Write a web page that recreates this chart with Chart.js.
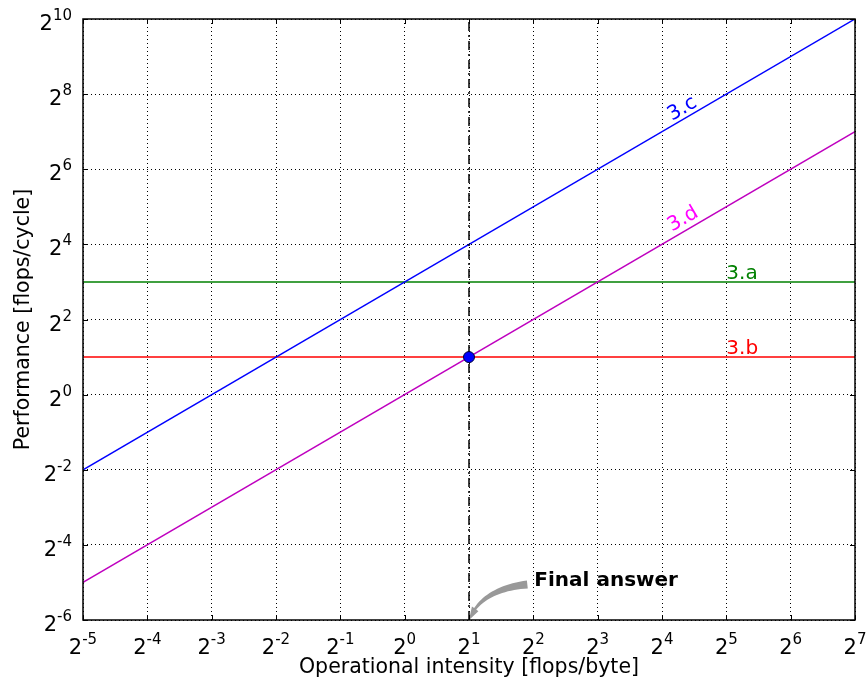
<!DOCTYPE html>
<html>
<head>
<meta charset="utf-8">
<script src="https://cdn.jsdelivr.net/npm/chart.js@4.4.0/dist/chart.umd.min.js"></script>
<style>
    body { margin: 0; background: #fff; }
    #wrap { width: 866px; height: 684px; }
</style>
</head>
<body>
<div id="wrap"><canvas id="roofline" width="866" height="684"></canvas></div>
<script>
// Tick exponents (base 2)
const xTickExp = [-5, -4, -3, -2, -1, 0, 1, 2, 3, 4, 5, 6, 7];
const yTickExp = [-6, -4, -2, 0, 2, 4, 6, 8, 10];

// Series (flops/byte -> flops/cycle)
const intensity = [1 / 32, 128];
const perf3a = [8, 8];
const perf3b = [2, 2];
const perf3c = [1 / 4, 1024];
const perf3d = [1 / 32, 128];

// Answer marker + vertical guide
const answerX = [2];
const answerY = [2];
const guideX = [2, 2];
const guideY = [1 / 64, 1024];

// Text annotations: [label, x, y, color, rotate along line]
const lineLabels = [
    ["3.c", 2 ** 4.17, 2 ** 7.24, "#0000ff", true],
    ["3.d", 2 ** 4.17, 2 ** 4.29, "#ff00ff", true],
    ["3.a", 2 ** 5, 2 ** 3.03, "#008000", false],
    ["3.b", 2 ** 5, 2 ** 1.03, "#ff0000", false],
];
const answerText = "Final answer";
const answerTextPos = [4, 2 ** -5];

const FONT = '"DejaVu Sans", sans-serif';

function pts(xs, ys) {
    return xs.map((x, i) => ({ x: x, y: ys[i] }));
}

function powTicks(exps) {
    return (scale) => {
        scale.ticks = exps.map((e) => ({ value: 2 ** e }));
    };
}

// "2" with a raised exponent
function drawPow(ctx, exp, x, baseline, align) {
    ctx.font = "21px " + FONT;
    const w2 = ctx.measureText("2").width;
    ctx.font = "15px " + FONT;
    const we = ctx.measureText(String(exp)).width;
    const total = w2 + we;
    const left = align === "center" ? x - total / 2 : x - total;
    ctx.textAlign = "left";
    ctx.textBaseline = "alphabetic";
    ctx.fillStyle = "#000";
    ctx.font = "21px " + FONT;
    ctx.fillText("2", left, baseline);
    ctx.font = "15px " + FONT;
    ctx.fillText(String(exp), left + w2, baseline - 10);
}

const decorPlugin = {
    id: "decor",
    afterDatasetsDraw(chart) {
        const ctx = chart.ctx;
        const a = chart.chartArea;
        const xs = chart.scales.x;
        const ys = chart.scales.y;
        ctx.save();

        // line labels
        lineLabels.forEach(([txt, x, y, color, rot]) => {
            const px = xs.getPixelForValue(x);
            const py = ys.getPixelForValue(y);
            ctx.save();
            ctx.translate(px, py);
            if (rot) {
                const dx = xs.getPixelForValue(2 ** 7) - xs.getPixelForValue(2 ** 6);
                const dy = ys.getPixelForValue(2 ** 7) - ys.getPixelForValue(2 ** 6);
                ctx.rotate(Math.atan2(dy, dx));
            }
            ctx.font = "20px " + FONT;
            ctx.fillStyle = color;
            ctx.textAlign = "left";
            ctx.textBaseline = "alphabetic";
            ctx.fillText(txt, 0, -2);
            ctx.restore();
        });

        // annotation arrow
        const tx = xs.getPixelForValue(answerTextPos[0]);
        const ty = ys.getPixelForValue(answerTextPos[1]);
        const ex = xs.getPixelForValue(answerX[0]);
        const ey = ys.getPixelForValue(2 ** -6);
        const sx = tx - 6, sy = ty + 2;
        const cx = ex + 12, cy = sy + 5;
        const bez = (t) => ({
            x: (1 - t) * (1 - t) * sx + 2 * (1 - t) * t * cx + t * t * ex,
            y: (1 - t) * (1 - t) * sy + 2 * (1 - t) * t * cy + t * t * ey,
        });
        const tHead = 0.8;
        const upper = [], lower = [];
        for (let i = 0; i <= 20; i++) {
            const t = (tHead * i) / 20;
            const p = bez(t);
            const q = bez(t + 0.01);
            let nx = -(q.y - p.y), ny = q.x - p.x;
            const nl = Math.hypot(nx, ny);
            nx /= nl; ny /= nl;
            const w = 4 - 2.7 * (t / tHead);
            upper.push({ x: p.x + nx * w, y: p.y + ny * w });
            lower.push({ x: p.x - nx * w, y: p.y - ny * w });
        }
        const hb = bez(tHead), hq = bez(tHead + 0.01);
        let hnx = -(hq.y - hb.y), hny = hq.x - hb.x;
        const hl = Math.hypot(hnx, hny);
        hnx /= hl; hny /= hl;
        ctx.fillStyle = "#999999";
        ctx.beginPath();
        upper.forEach((p, i) => (i ? ctx.lineTo(p.x, p.y) : ctx.moveTo(p.x, p.y)));
        ctx.lineTo(hb.x + hnx * 4, hb.y + hny * 4);
        ctx.lineTo(ex, ey);
        ctx.lineTo(hb.x - hnx * 4, hb.y - hny * 4);
        for (let i = lower.length - 1; i >= 0; i--) ctx.lineTo(lower[i].x, lower[i].y);
        ctx.closePath();
        ctx.fill();

        ctx.font = "bold 20px " + FONT;
        ctx.fillStyle = "#000";
        ctx.textAlign = "left";
        ctx.textBaseline = "middle";
        ctx.fillText(answerText, tx + 1, ty - 2);

        // frame + inward ticks
        ctx.strokeStyle = "#000";
        ctx.lineWidth = 1.5;
        ctx.strokeRect(a.left, a.top, a.right - a.left, a.bottom - a.top);
        ctx.lineWidth = 1;
        ctx.beginPath();
        xTickExp.forEach((e) => {
            const px = Math.round(xs.getPixelForValue(2 ** e)) + 0.5;
            ctx.moveTo(px, a.bottom); ctx.lineTo(px, a.bottom - 5);
            ctx.moveTo(px, a.top); ctx.lineTo(px, a.top + 5);
        });
        yTickExp.forEach((e) => {
            const py = Math.round(ys.getPixelForValue(2 ** e)) + 0.5;
            ctx.moveTo(a.left, py); ctx.lineTo(a.left + 5, py);
            ctx.moveTo(a.right, py); ctx.lineTo(a.right - 5, py);
        });
        ctx.stroke();

        // tick labels
        xTickExp.forEach((e) => drawPow(ctx, e, xs.getPixelForValue(2 ** e), a.bottom + 34, "center"));
        yTickExp.forEach((e) => drawPow(ctx, e, a.left - 11, ys.getPixelForValue(2 ** e) + 11, "right"));

        // axis titles
        ctx.font = "20.5px " + FONT;
        ctx.fillStyle = "#000";
        ctx.textAlign = "center";
        ctx.textBaseline = "alphabetic";
        ctx.fillText("Operational intensity [flops/byte]", (a.left + a.right) / 2, 673);
        ctx.translate(29, (a.top + a.bottom) / 2);
        ctx.rotate(-Math.PI / 2);
        ctx.fillText("Performance [flops/cycle]", 0, 0);
        ctx.restore();
    },
};

const lineDs = (label, ys, color, extra) =>
    Object.assign(
        {
            label: label,
            data: pts(intensity, ys),
            borderColor: color,
            borderWidth: 1.5,
            pointRadius: 0,
            fill: false,
        },
        extra || {}
    );

const gridOpts = { color: "#000", lineWidth: 1, drawTicks: false };
const borderOpts = { display: false, dash: [1, 3] };

new Chart(document.getElementById("roofline"), {
    type: "line",
    data: {
        datasets: [
            {
                label: "answer",
                data: pts(answerX, answerY),
                showLine: false,
                pointRadius: 5.5,
                pointBackgroundColor: "#0000ff",
                pointBorderColor: "#000033",
                pointBorderWidth: 1,
                order: 0,
            },
            lineDs("3.c", perf3c, "#0000ff", { order: 2 }),
            lineDs("3.d", perf3d, "#bf00bf", { order: 2 }),
            lineDs("3.a", perf3a, "#008000", { order: 2 }),
            lineDs("3.b", perf3b, "#ff0000", { order: 2 }),
            {
                label: "guide",
                data: pts(guideX, guideY),
                borderColor: "#000",
                borderWidth: 1.5,
                borderDash: [9, 4, 2, 4],
                pointRadius: 0,
                order: 1,
            },
        ],
    },
    options: {
        responsive: false,
        animation: false,
        layout: { padding: { top: 19, right: 11, left: 0, bottom: 0 } },
        plugins: {
            legend: { display: false },
            tooltip: { enabled: false },
        },
        scales: {
            x: {
                type: "logarithmic",
                min: 2 ** -5,
                max: 2 ** 7,
                afterBuildTicks: powTicks(xTickExp),
                afterFit: (s) => { s.height = 64; },
                ticks: { display: false },
                border: borderOpts,
                grid: gridOpts,
            },
            y: {
                type: "logarithmic",
                min: 2 ** -6,
                max: 2 ** 10,
                afterBuildTicks: powTicks(yTickExp),
                afterFit: (s) => { s.width = 83; },
                ticks: { display: false },
                border: borderOpts,
                grid: gridOpts,
            },
        },
    },
    plugins: [decorPlugin],
});
</script>
</body>
</html>
